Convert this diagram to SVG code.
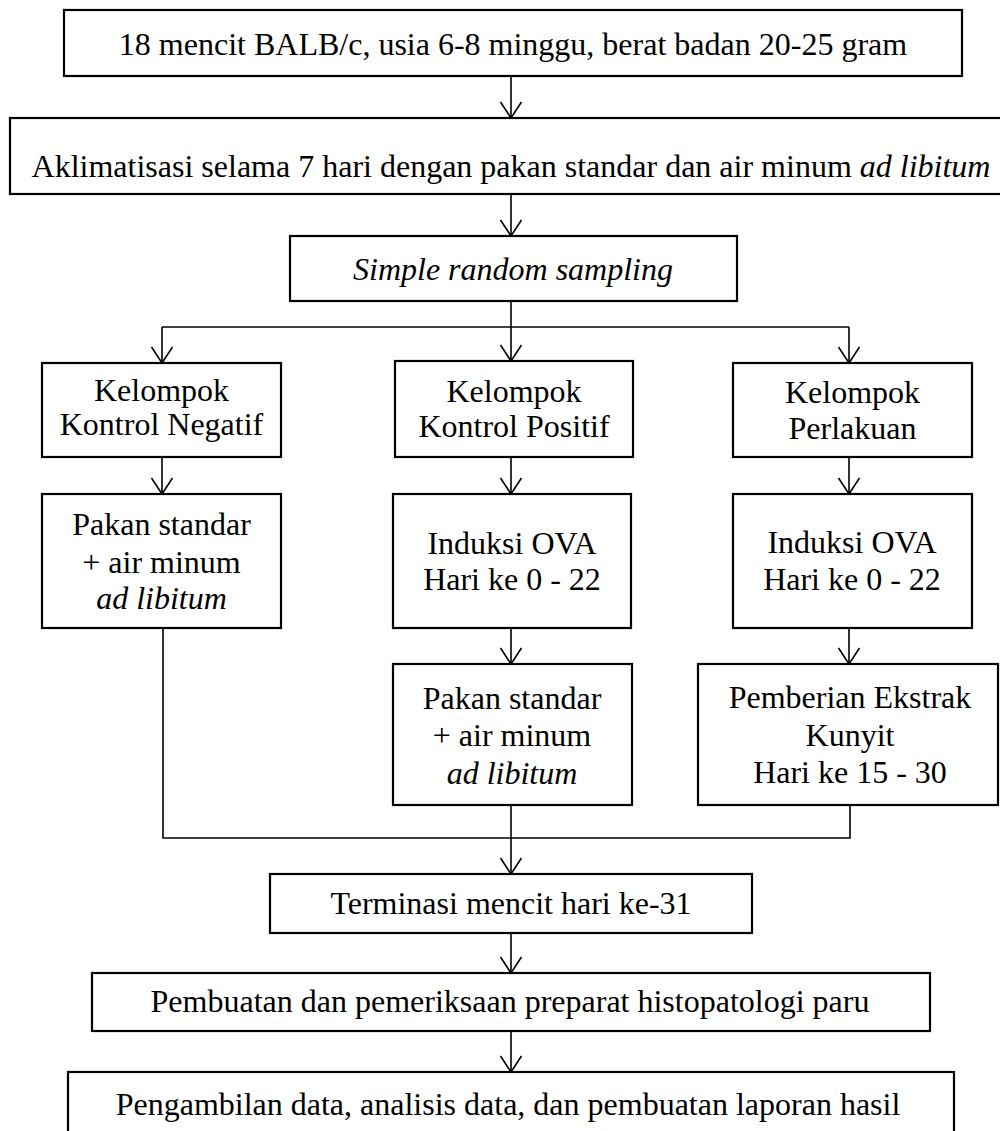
<svg xmlns="http://www.w3.org/2000/svg" width="1000" height="1131" viewBox="0 0 1000 1131">
<style>
.box{fill:#fff;stroke:#000;stroke-width:2.2}
.t{font-family:"Liberation Serif","Times New Roman",serif;font-size:32px;fill:#000;text-anchor:middle}
.i{font-style:italic}
.c{fill:none;stroke:#000;stroke-width:1.6}
</style>
<defs>
<marker id="ah" markerUnits="userSpaceOnUse" markerWidth="20" markerHeight="24" refX="0" refY="0" orient="auto" style="overflow:visible">
<path d="M-16,-10.5 L0,0 L-16,10.5" fill="none" stroke="#000" stroke-width="1.6"/>
</marker>
</defs>
<rect width="1000" height="1131" fill="#fff"/>
<g id="connectors">
<line class="c" x1="511" y1="76" x2="511" y2="118" marker-end="url(#ah)"/>
<line class="c" x1="511" y1="194" x2="511" y2="236" marker-end="url(#ah)"/>
<polyline class="c" points="511,301 511,327"/>
<polyline class="c" points="162,327 849,327"/>
<line class="c" x1="162" y1="327" x2="162" y2="363" marker-end="url(#ah)"/>
<line class="c" x1="511" y1="327" x2="511" y2="361" marker-end="url(#ah)"/>
<line class="c" x1="849" y1="327" x2="849" y2="363" marker-end="url(#ah)"/>
<line class="c" x1="162" y1="457" x2="162" y2="494" marker-end="url(#ah)"/>
<line class="c" x1="511" y1="457" x2="511" y2="494" marker-end="url(#ah)"/>
<line class="c" x1="849" y1="457" x2="849" y2="494" marker-end="url(#ah)"/>
<line class="c" x1="511" y1="628" x2="511" y2="664" marker-end="url(#ah)"/>
<line class="c" x1="849" y1="628" x2="849" y2="664" marker-end="url(#ah)"/>
<polyline class="c" points="163,628 163,838 850,838 850,805"/>
<line class="c" x1="511" y1="805" x2="511" y2="874" marker-end="url(#ah)"/>
<line class="c" x1="511" y1="933" x2="511" y2="973" marker-end="url(#ah)"/>
<line class="c" x1="511" y1="1031" x2="511" y2="1072" marker-end="url(#ah)"/>
</g>
<g id="n1"><rect class="box" x="64" y="10" width="898" height="66"/>
<text class="t" x="513" y="55">18 mencit BALB/c, usia 6-8 minggu, berat badan 20-25 gram</text></g>
<g id="n2"><rect class="box" x="10" y="118" width="995" height="76"/>
<text class="t" x="511" y="177">Aklimatisasi selama 7 hari dengan pakan standar dan air minum <tspan class="i">ad libitum</tspan></text></g>
<g id="n3"><rect class="box" x="290" y="236" width="447" height="65"/>
<text class="t i" x="513" y="280">Simple random sampling</text></g>
<g id="n4"><rect class="box" x="42" y="363" width="239" height="94"/>
<text class="t" x="161.5" y="401">Kelompok</text><text class="t" x="161.5" y="435">Kontrol Negatif</text></g>
<g id="n5"><rect class="box" x="395" y="361" width="238" height="96"/>
<text class="t" x="514" y="402">Kelompok</text><text class="t" x="514" y="437">Kontrol Positif</text></g>
<g id="n6"><rect class="box" x="733" y="363" width="239" height="94"/>
<text class="t" x="852.5" y="403">Kelompok</text><text class="t" x="852.5" y="439">Perlakuan</text></g>
<g id="n7"><rect class="box" x="42" y="494" width="239" height="134"/>
<text class="t" x="161.5" y="535">Pakan standar</text><text class="t" x="161.5" y="573">+ air minum</text><text class="t i" x="161.5" y="609">ad libitum</text></g>
<g id="n8"><rect class="box" x="393" y="494" width="238" height="134"/>
<text class="t" x="512" y="554">Induksi OVA</text><text class="t" x="512" y="590">Hari ke 0 - 22</text></g>
<g id="n9"><rect class="box" x="733" y="494" width="239" height="134"/>
<text class="t" x="852" y="553">Induksi OVA</text><text class="t" x="852" y="590">Hari ke 0 - 22</text></g>
<g id="n10"><rect class="box" x="393" y="664" width="239" height="141"/>
<text class="t" x="512" y="709">Pakan standar</text><text class="t" x="512" y="746">+ air minum</text><text class="t i" x="512" y="784">ad libitum</text></g>
<g id="n11"><rect class="box" x="698" y="664" width="300" height="141"/>
<text class="t" x="850" y="708">Pemberian Ekstrak</text><text class="t" x="850" y="746">Kunyit</text><text class="t" x="850" y="783">Hari ke 15 - 30</text></g>
<g id="n12"><rect class="box" x="270" y="874" width="482" height="59"/>
<text class="t" x="511" y="914">Terminasi mencit hari ke-31</text></g>
<g id="n13"><rect class="box" x="92" y="973" width="838" height="58"/>
<text class="t" x="510" y="1012">Pembuatan dan pemeriksaan preparat histopatologi paru</text></g>
<g id="n14"><rect class="box" x="68" y="1072" width="886" height="80"/>
<text class="t" x="508" y="1115">Pengambilan data, analisis data, dan pembuatan laporan hasil</text></g>
</svg>
